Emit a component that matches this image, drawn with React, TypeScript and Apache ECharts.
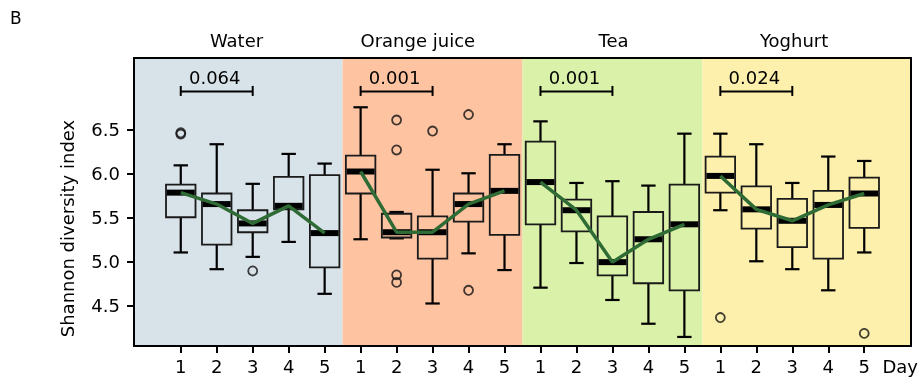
import React, { useEffect, useRef } from "react";
import * as echarts from "echarts";

const panels = ["Water", "Orange juice", "Tea", "Yoghurt"];
const panelColors = ["#d8e2e9", "#fec4a2", "#daf1a9", "#fcf0ac"];
const dayLabels = ["1", "2", "3", "4", "5"];
const pValues = ["0.064", "0.001", "0.001", "0.024"];
const titleX = [2.55, 7.59, 13.03, 18.05];
const bracketY = 6.93;

// one entry per box: 4 panels x 5 days
const lowerWhisker = [5.1, 4.91, 5.05, 5.22, 4.63, 5.25, 5.26, 4.52, 5.09, 4.9, 4.7, 4.98, 4.56, 4.29, 4.14, 5.58, 5.0, 4.91, 4.67, 5.1];
const q1 = [5.5, 5.19, 5.33, 5.59, 4.93, 5.77, 5.27, 5.03, 5.45, 5.3, 5.42, 5.34, 4.84, 4.75, 4.67, 5.78, 5.37, 5.16, 5.03, 5.38];
const median = [5.78, 5.65, 5.43, 5.63, 5.32, 6.02, 5.33, 5.33, 5.65, 5.8, 5.9, 5.58, 4.99, 5.25, 5.42, 5.97, 5.59, 5.46, 5.64, 5.77];
const q3 = [5.87, 5.77, 5.58, 5.96, 5.98, 6.2, 5.54, 5.51, 5.77, 6.21, 6.36, 5.7, 5.51, 5.56, 5.87, 6.19, 5.85, 5.71, 5.8, 5.95];
const upperWhisker = [6.09, 6.33, 5.88, 6.22, 6.11, 6.75, 5.56, 6.04, 6.0, 6.33, 6.59, 5.89, 5.91, 5.86, 6.45, 6.45, 6.33, 5.89, 6.19, 6.14];

const outlierBox = [1, 1, 3, 7, 7, 7, 7, 8, 9, 9, 16, 20];
const outlierValue = [6.445, 6.46, 4.89, 6.605, 6.265, 4.845, 4.76, 6.48, 6.667, 4.67, 4.36, 4.18];

const yTicks = [4.5, 5.0, 5.5, 6.0, 6.5];

const xMin = -0.3;
const xMax = 21.3;
const yMin = 4.037;
const yMax = 7.31;
const FONT = "DejaVu Sans";

export default function App() {
  const ref = useRef<HTMLDivElement>(null);
  useEffect(() => {
    if (!ref.current) return;
    const chart = echarts.init(ref.current, undefined, { renderer: "svg" });
    const nBoxes = median.length;
    const tickVals = median.map((_, i) => i + 1);
    const labelVals = [...tickVals, nBoxes + 1];

    const option: any = {
      animation: false,
      textStyle: { fontFamily: FONT },
      grid: { left: 134, right: 11, top: 58, bottom: 37 },
      xAxis: [
        {
          type: "value",
          min: xMin,
          max: xMax,
          splitLine: { show: false },
          axisLine: { show: true, onZero: false, lineStyle: { color: "#000", width: 2 } },
          axisTick: { show: true, length: 7, lineStyle: { color: "#000", width: 2 }, customValues: tickVals },
          axisLabel: {
            customValues: labelVals,
            margin: 11,
            fontSize: 18,
            fontFamily: FONT,
            color: "#000",
            formatter: (v: number) => (v > nBoxes ? "Day" : dayLabels[(Math.round(v) - 1) % dayLabels.length]),
          },
        },
        {
          type: "value",
          position: "top",
          min: xMin,
          max: xMax,
          splitLine: { show: false },
          axisLine: { show: true, onZero: false, lineStyle: { color: "#000", width: 2 } },
          axisTick: { show: false },
          axisLabel: { show: false },
        },
      ],
      yAxis: [
        {
          type: "value",
          min: yMin,
          max: yMax,
          splitLine: { show: false },
          axisLine: { show: true, onZero: false, lineStyle: { color: "#000", width: 2 } },
          axisTick: { show: true, length: 7, lineStyle: { color: "#000", width: 2 }, customValues: yTicks },
          axisLabel: {
            customValues: yTicks,
            margin: 14,
            fontSize: 18,
            fontFamily: FONT,
            color: "#000",
            formatter: (v: number) => v.toFixed(1),
          },
        },
        {
          type: "value",
          position: "right",
          min: yMin,
          max: yMax,
          splitLine: { show: false },
          axisLine: { show: true, onZero: false, lineStyle: { color: "#000", width: 2 } },
          axisTick: { show: false },
          axisLabel: { show: false },
        },
      ],
      graphic: [
        {
          type: "text",
          x: 10,
          y: 17.5,
          style: { text: "B", fontSize: 17, fontFamily: FONT, fill: "#000", textAlign: "left", textVerticalAlign: "middle" },
        },
        {
          type: "text",
          x: 67,
          y: 228.5,
          rotation: Math.PI / 2,
          style: {
            text: "Shannon diversity index",
            fontSize: 18,
            fontFamily: FONT,
            fill: "#000",
            textAlign: "center",
            textVerticalAlign: "middle",
          },
        },
      ],
      series: [
        {
          type: "custom",
          name: "panels",
          z: -1,
          silent: true,
          data: panels.map((_, p) => [p * 5 + 3, 5]),
          renderItem: (params: any, api: any) => {
            const p = params.dataIndex;
            const x0 = p === 0 ? xMin : p * 5 + 0.5;
            const x1 = p === panels.length - 1 ? xMax : p * 5 + 5.5;
            const tl = api.coord([x0, yMax]);
            const br = api.coord([x1, yMin]);
            return {
              type: "rect",
              shape: { x: tl[0], y: tl[1], width: br[0] - tl[0], height: br[1] - tl[1] },
              style: { fill: panelColors[p] },
            };
          },
        },
        {
          type: "custom",
          name: "boxes",
          z: 3,
          silent: true,
          encode: { x: 0, y: [1, 2, 3, 4, 5] },
          data: median.map((m, i) => [i + 1, lowerWhisker[i], q1[i], m, q3[i], upperWhisker[i]]),
          renderItem: (params: any, api: any) => {
            const i = params.dataIndex;
            const x = api.value(0);
            const pLw = api.coord([x, api.value(1)]);
            const pQ1 = api.coord([x, api.value(2)]);
            const pMed = api.coord([x, api.value(3)]);
            const pQ3 = api.coord([x, api.value(4)]);
            const pUw = api.coord([x, api.value(5)]);
            const half = api.size([0.41, 0])[0];
            const cap = api.size([0.2, 0])[0];
            const cx = pLw[0];
            const wStyle = { stroke: "#000", lineWidth: 2.2 };
            return {
              type: "group",
              children: [
                { type: "line", shape: { x1: cx, y1: pQ1[1], x2: cx, y2: pLw[1] }, style: wStyle },
                { type: "line", shape: { x1: cx - cap, y1: pLw[1], x2: cx + cap, y2: pLw[1] }, style: wStyle },
                { type: "line", shape: { x1: cx, y1: pQ3[1], x2: cx, y2: pUw[1] }, style: wStyle },
                { type: "line", shape: { x1: cx - cap, y1: pUw[1], x2: cx + cap, y2: pUw[1] }, style: wStyle },
                {
                  type: "rect",
                  shape: { x: cx - half, y: pQ3[1], width: half * 2, height: pQ1[1] - pQ3[1] },
                  style: { fill: panelColors[Math.floor(i / 5)], stroke: "#1a1a1a", lineWidth: 1.8 },
                },
                {
                  type: "line",
                  shape: { x1: cx - half + 0.8, y1: pMed[1], x2: cx + half - 0.8, y2: pMed[1] },
                  style: { stroke: "#000", lineWidth: 6 },
                },
              ],
            };
          },
        },
        {
          type: "scatter",
          name: "outliers",
          z: 4,
          silent: true,
          symbol: "circle",
          symbolSize: 9,
          itemStyle: { color: "rgba(0,0,0,0)", borderColor: "#111", borderWidth: 1.8 },
          data: outlierBox.map((b, k) => [b, outlierValue[k]]),
        },
        ...panels.map((name, p) => ({
          type: "line",
          name: name + " median",
          z: 5,
          silent: true,
          symbol: "none",
          lineStyle: { color: "#2f6b35", width: 3.5 },
          data: dayLabels.map((_, d) => [p * 5 + d + 1, median[p * 5 + d]]),
        })),
        {
          type: "custom",
          name: "brackets",
          z: 6,
          silent: true,
          data: panels.map((_, p) => [p * 5 + 1, bracketY, p * 5 + 3]),
          renderItem: (params: any, api: any) => {
            const p = params.dataIndex;
            const a = api.coord([api.value(0), api.value(1)]);
            const b = api.coord([api.value(2), api.value(1)]);
            const s = { stroke: "#000", lineWidth: 2 };
            return {
              type: "group",
              children: [
                { type: "line", shape: { x1: a[0], y1: a[1], x2: b[0], y2: a[1] }, style: s },
                { type: "line", shape: { x1: a[0], y1: a[1] - 5.5, x2: a[0], y2: a[1] + 4.5 }, style: s },
                { type: "line", shape: { x1: b[0], y1: a[1] - 5.5, x2: b[0], y2: a[1] + 4.5 }, style: s },
                {
                  type: "text",
                  x: (a[0] + b[0]) / 2 - 2,
                  y: a[1] - 14,
                  style: {
                    text: pValues[p],
                    fontSize: 18,
                    fontFamily: FONT,
                    fill: "#000",
                    textAlign: "center",
                    textVerticalAlign: "middle",
                  },
                },
              ],
            };
          },
        },
        {
          type: "custom",
          name: "titles",
          z: 6,
          silent: true,
          clip: false,
          data: titleX.map((x) => [x, yMax]),
          renderItem: (params: any, api: any) => {
            const c = api.coord([api.value(0), api.value(1)]);
            return {
              type: "text",
              x: c[0],
              y: c[1] - 18,
              style: {
                text: panels[params.dataIndex],
                fontSize: 18,
                fontFamily: FONT,
                fill: "#000",
                textAlign: "center",
                textVerticalAlign: "middle",
              },
            };
          },
        },
      ],
    };
    chart.setOption(option);
    return () => chart.dispose();
  }, []);
  return <div ref={ref} style={{ position: "fixed", left: 0, top: 0, width: 922, height: 383 }} />;
}
